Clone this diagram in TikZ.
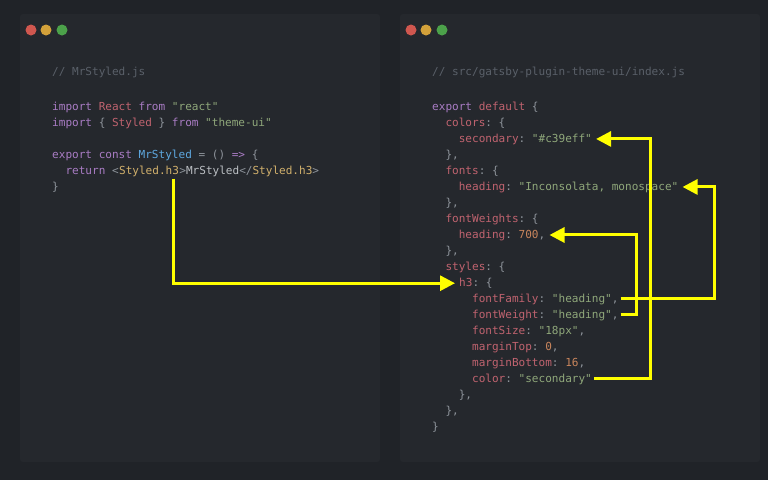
\documentclass[tikz,border=0pt]{standalone}
\usepackage{fontspec}
\setmonofont{DejaVu Sans Mono}
\usetikzlibrary{calc,arrows.meta}
\definecolor{bgdark}{HTML}{202328}
\definecolor{panel}{HTML}{25282D}
\definecolor{kwcol}{HTML}{A97CC4}
\definecolor{namecol}{HTML}{C0636F}
\definecolor{strcol}{HTML}{8FA77A}
\definecolor{numcol}{HTML}{C9855C}
\definecolor{puncol}{HTML}{8E949B}
\definecolor{comcol}{HTML}{5A6069}
\definecolor{fncol}{HTML}{5EA8E0}
\definecolor{tagcol}{HTML}{D1B06C}
\definecolor{arrowcol}{HTML}{FFFF00}
\definecolor{dotred}{HTML}{D0574F}
\definecolor{dotyel}{HTML}{D3A13A}
\definecolor{dotgrn}{HTML}{4CA24A}
\newcommand{\kw}[1]{\textcolor{kwcol}{#1}}
\newcommand{\nm}[1]{\textcolor{namecol}{#1}}
\newcommand{\str}[1]{\textcolor{strcol}{#1}}
\newcommand{\num}[1]{\textcolor{numcol}{#1}}
\newcommand{\pun}[1]{\textcolor{puncol}{#1}}
\newcommand{\tg}[1]{\textcolor{tagcol}{#1}}
\begin{document}
\begin{tikzpicture}[x=1pt,y=-1pt,
	code/.style={anchor=base west,inner sep=0pt,font=\fontsize{11.05}{13}\selectfont\ttfamily,text=puncol},
	link/.style={draw=arrowcol,line width=3pt,-{Triangle[length=15pt,width=15pt]}}]
	% background and windows
	\fill[bgdark] (0,0) rectangle (768,480);
	\fill[panel,rounded corners=3pt] (20,14) rectangle (380,462);
	\fill[panel,rounded corners=3pt] (400,14) rectangle (760,462);
	\foreach \px in {20,400}{
		\fill[dotred] (\px+11,30) circle (5.5);
		\fill[dotyel] (\px+26,30) circle (5.5);
		\fill[dotgrn] (\px+42,30) circle (5.5);
	}
	% left file
	\node[code] (lcom) at (52,75) {\textcolor{comcol}{// MrStyled.js}};
	\node[code] (limp1) at (52,110) {\kw{import} \nm{React} \kw{from} \str{"react"}};
	\node[code] (limp2) at (52,126) {\kw{import} \{ \nm{Styled} \} \kw{from} \str{"theme-ui"}};
	\node[code] (lexp) at (52,158) {\kw{export const} \textcolor{fncol}{MrStyled} = () \kw{=>} \{};
	\node[code] (lret) at (52,174) {\ \ \kw{return} <};
	\node[code] (ltag) at (lret.base east) {\tg{Styled.h3}};
	\node[code] (lrest) at (ltag.base east) {>\textcolor{puncol!60!white}{MrStyled}</\tg{Styled.h3}>};
	\node[code] (lend) at (52,190) {\}};
	% right file
	\node[code] (rcom) at (432,75) {\textcolor{comcol}{// src/gatsby-plugin-theme-ui/index.js}};
	\node[code] (rexp) at (432,110) {\kw{export} \nm{default} \{};
	\node[code] (rcol) at (432,126) {\ \ \nm{colors}: \{};
	\node[code] (rsec) at (432,142) {\ \ \ \ \nm{secondary}: \str{"\#c39eff"}};
	\node[code] at (432,158) {\ \ \},};
	\node[code] (rfon) at (432,174) {\ \ \nm{fonts}: \{};
	\node[code] (rhead) at (432,190) {\ \ \ \ \nm{heading}: \str{"Inconsolata, monospace"}};
	\node[code] at (432,206) {\ \ \},};
	\node[code] (rfw) at (432,222) {\ \ \nm{fontWeights}: \{};
	\node[code] (rwt) at (432,238) {\ \ \ \ \nm{heading}: \num{700},};
	\node[code] at (432,254) {\ \ \},};
	\node[code] (rsty) at (432,270) {\ \ \nm{styles}: \{};
	\node[code] (rhpre) at (432,286) {\phantom{xxxx}};
	\node[code] (rh3) at (rhpre.base east) {\nm{h3}: \{};
	\node[code] (rff) at (432,302) {\ \ \ \ \ \ \nm{fontFamily}: \str{"heading"},};
	\node[code] (rfwt) at (432,318) {\ \ \ \ \ \ \nm{fontWeight}: \str{"heading"},};
	\node[code] (rfs) at (432,334) {\ \ \ \ \ \ \nm{fontSize}: \str{"18px"},};
	\node[code] (rmt) at (432,350) {\ \ \ \ \ \ \nm{marginTop}: \num{0},};
	\node[code] (rmb) at (432,366) {\ \ \ \ \ \ \nm{marginBottom}: \num{16},};
	\node[code] (rclr) at (432,382) {\ \ \ \ \ \ \nm{color}: \str{"secondary"}};
	\node[code] at (432,398) {\ \ \ \ \},};
	\node[code] at (432,414) {\ \ \},};
	\node[code] at (432,430) {\}};
	% links
	\coordinate (kneeA) at (650,0);
	\coordinate (kneeB) at (714,0);
	\coordinate (kneeC) at (636,0);
	\draw[link] ($(ltag.south east)+(-6,2)$) |- ($(rh3.west)+(-4,0.5)$);
	\draw[link] ($(rclr.east)+(2,0)$) -- (rclr.east -| kneeA) -- (rsec.east -| kneeA) -- ($(rsec.east)+(4,0)$);
	\draw[link] ($(rff.east)+(2,0)$) -- (rff.east -| kneeB) -- (rhead.east -| kneeB) -- ($(rhead.east)+(4,0)$);
	\draw[link] ($(rfwt.east)+(2,0)$) -- (rfwt.east -| kneeC) -- (rwt.east -| kneeC) -- ($(rwt.east)+(4,0)$);
\end{tikzpicture}
\end{document}
